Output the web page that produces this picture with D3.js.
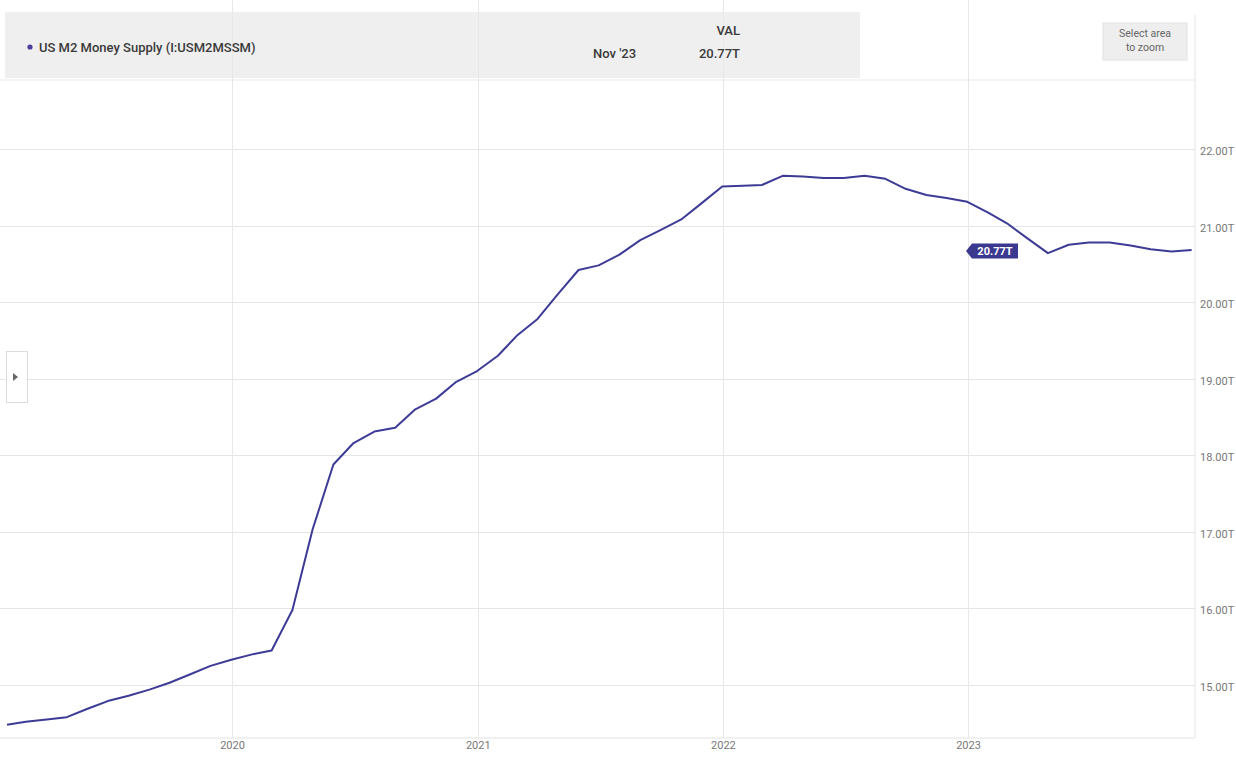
<!DOCTYPE html>
<html>
<head>
<meta charset="utf-8">
<script src="https://cdn.jsdelivr.net/npm/d3@7"></script>
<style>
  html, body { margin: 0; padding: 0; background: #ffffff; }
  svg { display: block; font-family: Roboto, "Noto Sans", Arial, sans-serif; }
</style>
</head>
<body>
<svg id="chart" width="1236" height="759"></svg>
<script>
// ---- data (month-end observations) ----
const months = [
  "2019-01","2019-02","2019-03","2019-04","2019-05","2019-06","2019-07","2019-08","2019-09","2019-10","2019-11","2019-12",
  "2020-01","2020-02","2020-03","2020-04","2020-05","2020-06","2020-07","2020-08","2020-09","2020-10","2020-11","2020-12",
  "2021-01","2021-02","2021-03","2021-04","2021-05","2021-06","2021-07","2021-08","2021-09","2021-10","2021-11","2021-12",
  "2022-01","2022-02","2022-03","2022-04","2022-05","2022-06","2022-07","2022-08","2022-09","2022-10","2022-11","2022-12",
  "2023-01","2023-02","2023-03","2023-04","2023-05","2023-06","2023-07","2023-08","2023-09","2023-10","2023-11"
];
const m2Values = [
  14.48,14.52,14.55,14.58,14.69,14.79,14.86,14.94,15.03,15.14,15.25,15.33,
  15.40,15.45,15.98,17.03,17.88,18.16,18.31,18.36,18.60,18.74,18.96,19.10,
  19.30,19.56,19.78,20.10,20.42,20.48,20.62,20.81,20.94,21.08,21.29,21.51,
  21.52,21.53,21.65,21.64,21.62,21.62,21.65,21.61,21.48,21.40,21.36,21.31,
  21.17,21.03,20.83,20.64,20.75,20.78,20.78,20.74,20.69,20.66,20.68
];
const reportedLastValue = 20.77;   // value shown in the header and the tag
const yTicks = [15,16,17,18,19,20,21,22];
const xTickYears = ["2020","2021","2022","2023"];
const seriesName = "US M2 Money Supply (I:USM2MSSM)";
const lastLabel = "Nov '23";
const colHeader = "VAL";

// ---- layout ----
const svg = d3.select("#chart");
const plotL = 0, plotR = 1195, plotT = 80, plotB = 738;
const lineColor = "#3d3b96";

const parseM = d3.utcParse("%Y-%m");
const data = months.map((m, i) => {
  const d = parseM(m);
  const end = d3.utcDay.offset(d3.utcMonth.offset(d, 1), -1);
  return { date: end, value: m2Values[i] };
});

const x = d3.scaleUtc()
  .domain([new Date(Date.UTC(2019,0,28)), new Date(Date.UTC(2023,11,5))])
  .range([5, plotR]);
const y = d3.scaleLinear().domain([15, 22]).range([685, 149]);

const fmtT = v => v.toFixed(2) + "T";

// header band
svg.append("rect").attr("x", 5).attr("y", 12).attr("width", 855).attr("height", 66)
  .attr("fill", "#efefef");

// plot frame lines
svg.append("line").attr("x1", plotL).attr("x2", plotR).attr("y1", plotT).attr("y2", plotT)
  .attr("stroke", "#e9e9e9");
svg.append("line").attr("x1", plotL).attr("x2", plotR).attr("y1", plotB).attr("y2", plotB)
  .attr("stroke", "#e2e2e2");
svg.append("line").attr("x1", plotR).attr("x2", plotR).attr("y1", 15).attr("y2", plotB)
  .attr("stroke", "#e4e4e4");

// horizontal gridlines
svg.append("g").selectAll("line").data(yTicks).join("line")
  .attr("x1", plotL).attr("x2", plotR)
  .attr("y1", d => Math.round(y(d)) + 0.5).attr("y2", d => Math.round(y(d)) + 0.5)
  .attr("stroke", "#e6e6e6");

// vertical gridlines
const yearDates = xTickYears.map(s => d3.utcParse("%Y")(s));
svg.append("g").selectAll("line").data(yearDates).join("line")
  .attr("x1", d => Math.round(x(d)) + 0.5).attr("x2", d => Math.round(x(d)) + 0.5)
  .attr("y1", 0).attr("y2", plotB)
  .attr("stroke", "#e8e8e8");

// right axis labels
const yAxis = d3.axisRight(y).tickValues(yTicks).tickFormat(fmtT).tickSize(0).tickPadding(0);
const gy = svg.append("g").attr("transform", `translate(1200,2)`).call(yAxis);
gy.select(".domain").remove();
gy.selectAll("text").attr("fill", "#777").attr("font-size", 11).attr("font-family", "Roboto, sans-serif");

// bottom axis labels
const xAxis = d3.axisBottom(x).tickValues(yearDates).tickFormat(d3.utcFormat("%Y")).tickSize(0).tickPadding(0);
const gx = svg.append("g").attr("transform", `translate(0,${plotB + 3})`).call(xAxis);
gx.select(".domain").remove();
gx.selectAll("text").attr("fill", "#777").attr("font-size", 11).attr("font-family", "Roboto, sans-serif");

// series line
const line = d3.line().x(d => x(d.date)).y(d => y(d.value));
svg.append("path").datum(data)
  .attr("d", line)
  .attr("fill", "none")
  .attr("stroke", lineColor)
  .attr("stroke-width", 2)
  .attr("stroke-linejoin", "round");

// last-value tag (aligned with the line's last point)
const last = data[data.length - 1];
const ty = y(last.value) + 1;
const tx0 = 966, tx1 = 1018, th = 15;
svg.append("path")
  .attr("d", `M${tx0},${ty} L${tx0 + 6},${ty - th/2} L${tx1},${ty - th/2} L${tx1},${ty + th/2} L${tx0 + 6},${ty + th/2} Z`)
  .attr("fill", "#3b3890");
svg.append("text").attr("x", (tx0 + 6 + tx1) / 2).attr("y", ty + 4)
  .attr("text-anchor", "middle").attr("fill", "#fff")
  .attr("font-size", 11).attr("font-weight", 700)
  .text(fmtT(reportedLastValue));

// legend in header
svg.append("circle").attr("cx", 30).attr("cy", 47).attr("r", 2.6).attr("fill", "#4b3f9c");
svg.append("text").attr("x", 39).attr("y", 52)
  .attr("fill", "#3a3a3a").attr("font-size", 13).attr("font-weight", 500)
  .text(seriesName);
svg.append("text").attr("x", 740).attr("y", 35).attr("text-anchor", "end")
  .attr("fill", "#3a3a3a").attr("font-size", 13).attr("font-weight", 500)
  .text(colHeader);
svg.append("text").attr("x", 593).attr("y", 58)
  .attr("fill", "#3a3a3a").attr("font-size", 13).attr("font-weight", 500)
  .text(lastLabel);
svg.append("text").attr("x", 740).attr("y", 58).attr("text-anchor", "end")
  .attr("fill", "#3a3a3a").attr("font-size", 13).attr("font-weight", 500)
  .text(fmtT(reportedLastValue));

// "Select area to zoom" button
svg.append("rect").attr("x", 1103).attr("y", 23).attr("width", 84).attr("height", 37)
  .attr("fill", "#eeeeee").attr("stroke", "#e2e2e2");
svg.append("text").attr("x", 1145).attr("y", 37).attr("text-anchor", "middle")
  .attr("fill", "#666").attr("font-size", 10.5).text("Select area");
svg.append("text").attr("x", 1145).attr("y", 51).attr("text-anchor", "middle")
  .attr("fill", "#666").attr("font-size", 10.5).text("to zoom");

// left side toggle button
svg.append("rect").attr("x", 6.5).attr("y", 351.5).attr("width", 21).attr("height", 51)
  .attr("fill", "#ffffff").attr("stroke", "#dcdcdc");
svg.append("path").attr("d", "M13,373 L18,377 L13,381 Z").attr("fill", "#666");
</script>
</body>
</html>
